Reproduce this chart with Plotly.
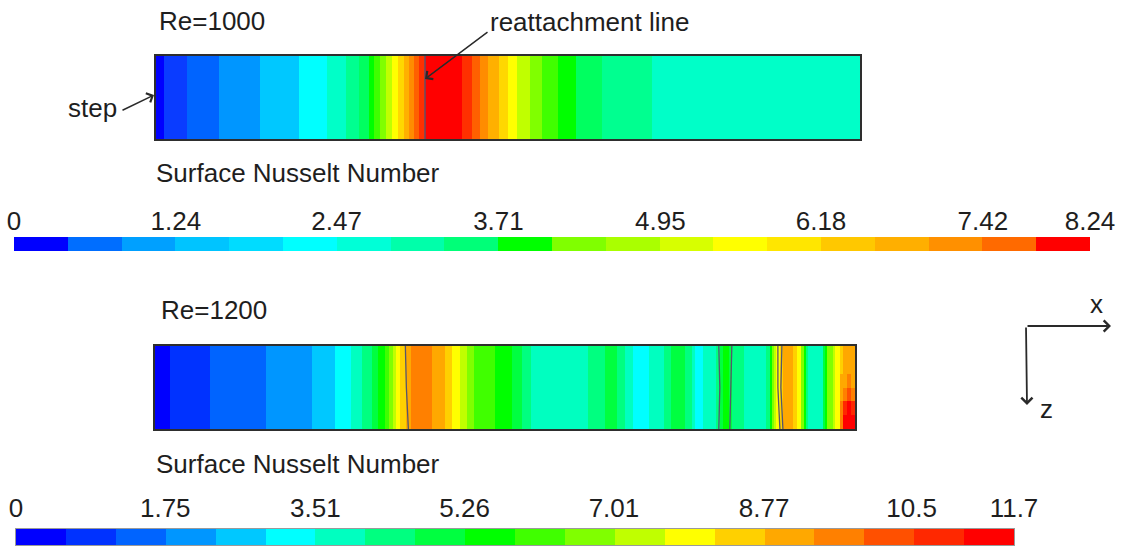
import numpy as np
import plotly.graph_objects as go

W, H = 1125, 546

# ---- Re = 1000 : Nusselt number bands along the heated wall (x measured from the step)
top_edges = [0, 8, 31, 63, 104, 143, 171, 190, 203, 213, 218, 224, 230, 236, 242, 248,
             253, 258, 263, 269, 306, 316, 324, 332, 343, 352, 361, 374, 386, 402, 420,
             446, 496, 704]
top_nu = [0.21, 0.62, 1.03, 1.44, 1.85, 2.27, 2.68, 3.09, 3.50, 3.91, 4.33, 4.74, 5.15,
          5.56, 5.97, 6.39, 6.80, 7.21, 7.62, 8.03, 7.62, 7.21, 6.80, 6.39, 5.97, 5.56,
          5.15, 4.74, 4.33, 3.91, 3.50, 3.09, 2.68]
top_reattach_x = [269, 269, 269]
top_nu_max = 8.24
top_ticks = [0, 1.24, 2.47, 3.71, 4.95, 6.18, 7.42, 8.24]

# ---- Re = 1200
bottom_edges = [0, 15, 55, 111, 157, 180, 196, 207, 217, 223, 230, 234, 238, 241, 245,
                251, 256, 277, 290, 297, 305, 312, 319, 340, 356, 366, 375, 432, 449, 461,
                469, 477, 493, 508, 515, 529, 536, 539, 547, 560, 564, 567, 573, 576, 588,
                610, 614, 616, 618, 620, 624, 627, 637, 641, 645, 648, 650, 652, 667, 669,
                671, 677, 679, 684, 687, 691, 695, 699]
bottom_nu = [0.29, 0.88, 1.46, 2.05, 2.63, 3.22, 3.80, 4.39, 4.97, 5.56, 6.14, 6.73, 7.31,
             7.90, 8.48, 9.07, 9.65, 9.07, 8.48, 7.90, 7.31, 6.73, 6.14, 5.56, 4.97, 4.39,
             3.80, 4.39, 4.97, 4.39, 3.80, 3.22, 3.80, 4.39, 4.97, 4.39, 3.80, 3.22, 3.80,
             4.39, 4.97, 5.56, 4.97, 4.39, 3.80, 4.39, 5.56, 6.73, 7.31, 7.90, 8.48, 9.07,
             8.48, 7.90, 6.73, 5.56, 4.39, 3.80, 4.97, 5.56, 6.73, 7.31, 7.90]
# hot spot at the outlet corner: last four columns, rows from z = 0 downwards
bottom_corner_nu = [
    [8.48, 9.07, 9.07, 9.07],
    [8.48, 9.07, 9.07, 9.07],
    [9.07, 9.07, 9.65, 9.07],
    [9.07, 9.65, 10.24, 9.65],
    [9.65, 10.82, 11.41, 10.82],
    [9.65, 11.41, 11.41, 11.41],
]
bottom_rows = [0, 1, 2, 3, 4, 5, 6]
# iso-lines across the span: x at z = 0, 3, 6
bottom_lines_x = [
    [250, 251, 253],
    [563, 564, 563],
    [576, 575, 574],
    [622, 622, 624],
    [626, 625, 627],
]
bottom_nu_max = 11.7
bottom_ticks = [0, 1.75, 3.51, 5.26, 7.01, 8.77, 10.5, 11.7]

N_BANDS = 20

# ---- colour palettes (20 discrete bands)
top_bar_colors = ["#0000FF", "#006EFF", "#00A0FF", "#00C4FF", "#00DCFF", "#00FFFF",
                  "#00FFD7", "#00FFAA", "#00FF78", "#00FF00", "#80FF00", "#AAFF00",
                  "#D7FF00", "#FFFF00", "#FFE600", "#FFC800", "#FFAF00", "#FF9000",
                  "#FF6A00", "#FF0000"]
top_field_colors = ["#0000FF", "#0A3CFF", "#0064FF", "#0096FF", "#00C8FF", "#00FFFF",
                    "#00FFC8", "#00FF90", "#00FF60", "#00FF00", "#40FF00", "#80FF00",
                    "#C0FF00", "#FFFF00", "#FFD700", "#FFB000", "#FF8C00", "#FF6000",
                    "#FF3000", "#FF0000"]
bottom_colors = ["#0000FF", "#0032FF", "#0064FF", "#0096FF", "#00C8FF", "#00FFFF",
                 "#00FFC0", "#00FF80", "#00FF40", "#00FF00", "#40FF00", "#80FF00",
                 "#C0FF00", "#FFFF00", "#FFD000", "#FFA800", "#FF8000", "#FF5000",
                 "#FF2800", "#FF0000"]


def band_scale(colors):
    n = len(colors)
    cs = []
    for i, c in enumerate(colors):
        cs.append([i / n, c])
        cs.append([(i + 1) / n, c])
    return cs


def px_x(p):
    return p / W


def px_y(p):
    return 1 - p / H


FONT = "Liberation Sans, Arial, sans-serif"
FS = 26
TXT = "#1e1e1e"
LINE_C = "#55556e"

fig = go.Figure()

# top contour strip
fig.add_trace(go.Heatmap(
    x=top_edges, y=[0, 1], z=[top_nu], zmin=0, zmax=top_nu_max,
    colorscale=band_scale(top_field_colors), showscale=False, hoverinfo="skip",
    xaxis="x", yaxis="y"))
fig.add_trace(go.Scatter(
    x=top_reattach_x, y=[0, 0.5, 1], mode="lines",
    line=dict(color=LINE_C, width=1.4), showlegend=False, hoverinfo="skip",
    xaxis="x", yaxis="y"))

# top colour legend
top_levels = np.linspace(0, top_nu_max, N_BANDS + 1)
top_mid = (top_levels[:-1] + top_levels[1:]) / 2
fig.add_trace(go.Heatmap(
    x=top_levels, y=[0, 1], z=[top_mid], zmin=0, zmax=top_nu_max,
    colorscale=band_scale(top_bar_colors), showscale=False, hoverinfo="skip",
    xaxis="x2", yaxis="y2"))

# bottom contour strip
z_bottom = []
for row in bottom_corner_nu:
    z_bottom.append(list(bottom_nu) + list(row))
fig.add_trace(go.Heatmap(
    x=bottom_edges, y=bottom_rows, z=z_bottom, zmin=0, zmax=bottom_nu_max,
    colorscale=band_scale(bottom_colors), showscale=False, hoverinfo="skip",
    xaxis="x3", yaxis="y3"))
for xs in bottom_lines_x:
    fig.add_trace(go.Scatter(
        x=xs, y=[0, 3, 6], mode="lines", line=dict(color=LINE_C, width=1.3),
        showlegend=False, hoverinfo="skip", xaxis="x3", yaxis="y3"))

# bottom colour legend
bot_levels = np.linspace(0, bottom_nu_max, N_BANDS + 1)
bot_mid = (bot_levels[:-1] + bot_levels[1:]) / 2
fig.add_trace(go.Heatmap(
    x=bot_levels, y=[0, 1], z=[bot_mid], zmin=0, zmax=bottom_nu_max,
    colorscale=band_scale(bottom_colors), showscale=False, hoverinfo="skip",
    xaxis="x4", yaxis="y4"))


def hidden_axis(domain, rng, box=True, anchor=None, reverse=False,
                line_color="#2e2e2e", line_width=2):
    d = dict(domain=domain, range=rng, showgrid=False, zeroline=False,
             showticklabels=False, ticks="", fixedrange=True, automargin=False)
    if reverse:
        d["range"] = [rng[1], rng[0]]
    if box:
        d.update(showline=True, mirror=True, linecolor=line_color, linewidth=line_width)
    if anchor:
        d["anchor"] = anchor
    return d


def bar_axis(domain, rng, ticks, anchor, outline=None):
    d = dict(domain=domain, range=rng, side="top", anchor=anchor,
             tickmode="array", tickvals=ticks, ticktext=[f"{t:g}" for t in ticks],
             ticks="", showgrid=False, zeroline=False, fixedrange=True,
             tickfont=dict(family=FONT, size=FS, color=TXT),
             ticklabelstandoff=1, automargin=False, showline=False)
    if outline:
        d.update(showline=True, mirror=True, linecolor=outline, linewidth=1)
    return d


fig.update_layout(
    width=W, height=H, margin=dict(l=0, r=0, t=0, b=0, pad=0, autoexpand=False),
    paper_bgcolor="white", plot_bgcolor="white", showlegend=False,
    xaxis=hidden_axis([px_x(156), px_x(860)], [0, 704], anchor="y"),
    yaxis=hidden_axis([px_y(139), px_y(56)], [0, 1], anchor="x", reverse=True),
    xaxis2=bar_axis([px_x(14), px_x(1090)], [0, top_nu_max], top_ticks, "y2"),
    yaxis2=hidden_axis([px_y(251), px_y(237)], [0, 1], box=False, anchor="x2"),
    xaxis3=hidden_axis([px_x(155), px_x(855)], [0, 699], anchor="y3"),
    yaxis3=hidden_axis([px_y(429), px_y(346)], [0, 6], anchor="x3", reverse=True),
    xaxis4=bar_axis([px_x(16), px_x(1014)], [0, bottom_nu_max], bottom_ticks, "y4",
                    outline="#9a9a9a"),
    yaxis4=hidden_axis([px_y(545), px_y(529)], [0, 1], anchor="x4",
                       line_color="#9a9a9a", line_width=1),
)


def label(text, x, y, size=FS, xanchor="left"):
    fig.add_annotation(text=text, x=px_x(x), y=px_y(y), xref="paper", yref="paper",
                       xanchor=xanchor, yanchor="middle", showarrow=False,
                       font=dict(family=FONT, size=size, color=TXT))


def arrow(x_head, y_head, x_tail, y_tail, width=1.5, size=1.3):
    fig.add_annotation(text="", x=px_x(x_head), y=px_y(y_head), xref="paper", yref="paper",
                       ax=x_tail - x_head, ay=y_tail - y_head, axref="pixel", ayref="pixel",
                       showarrow=True, arrowhead=4, arrowsize=size, arrowwidth=width,
                       arrowcolor="#2a2a2a")


label("Re=1000", 157, 21)
label("reattachment line", 488, 22)
arrow(425, 79, 489, 31)
label("step", 66, 108)
arrow(154, 95, 121, 111)
label("Surface Nusselt Number", 154, 173)

label("Re=1200", 159, 310)
label("Surface Nusselt Number", 154, 464)

# coordinate system glyph
arrow(1111, 326, 1026, 326, width=1.8, size=1.2)
arrow(1027, 405, 1026, 326, width=1.8, size=1.2)
label("x", 1096, 304, xanchor="center")
label("z", 1046, 409, xanchor="center")

fig.write_html("out.html")
